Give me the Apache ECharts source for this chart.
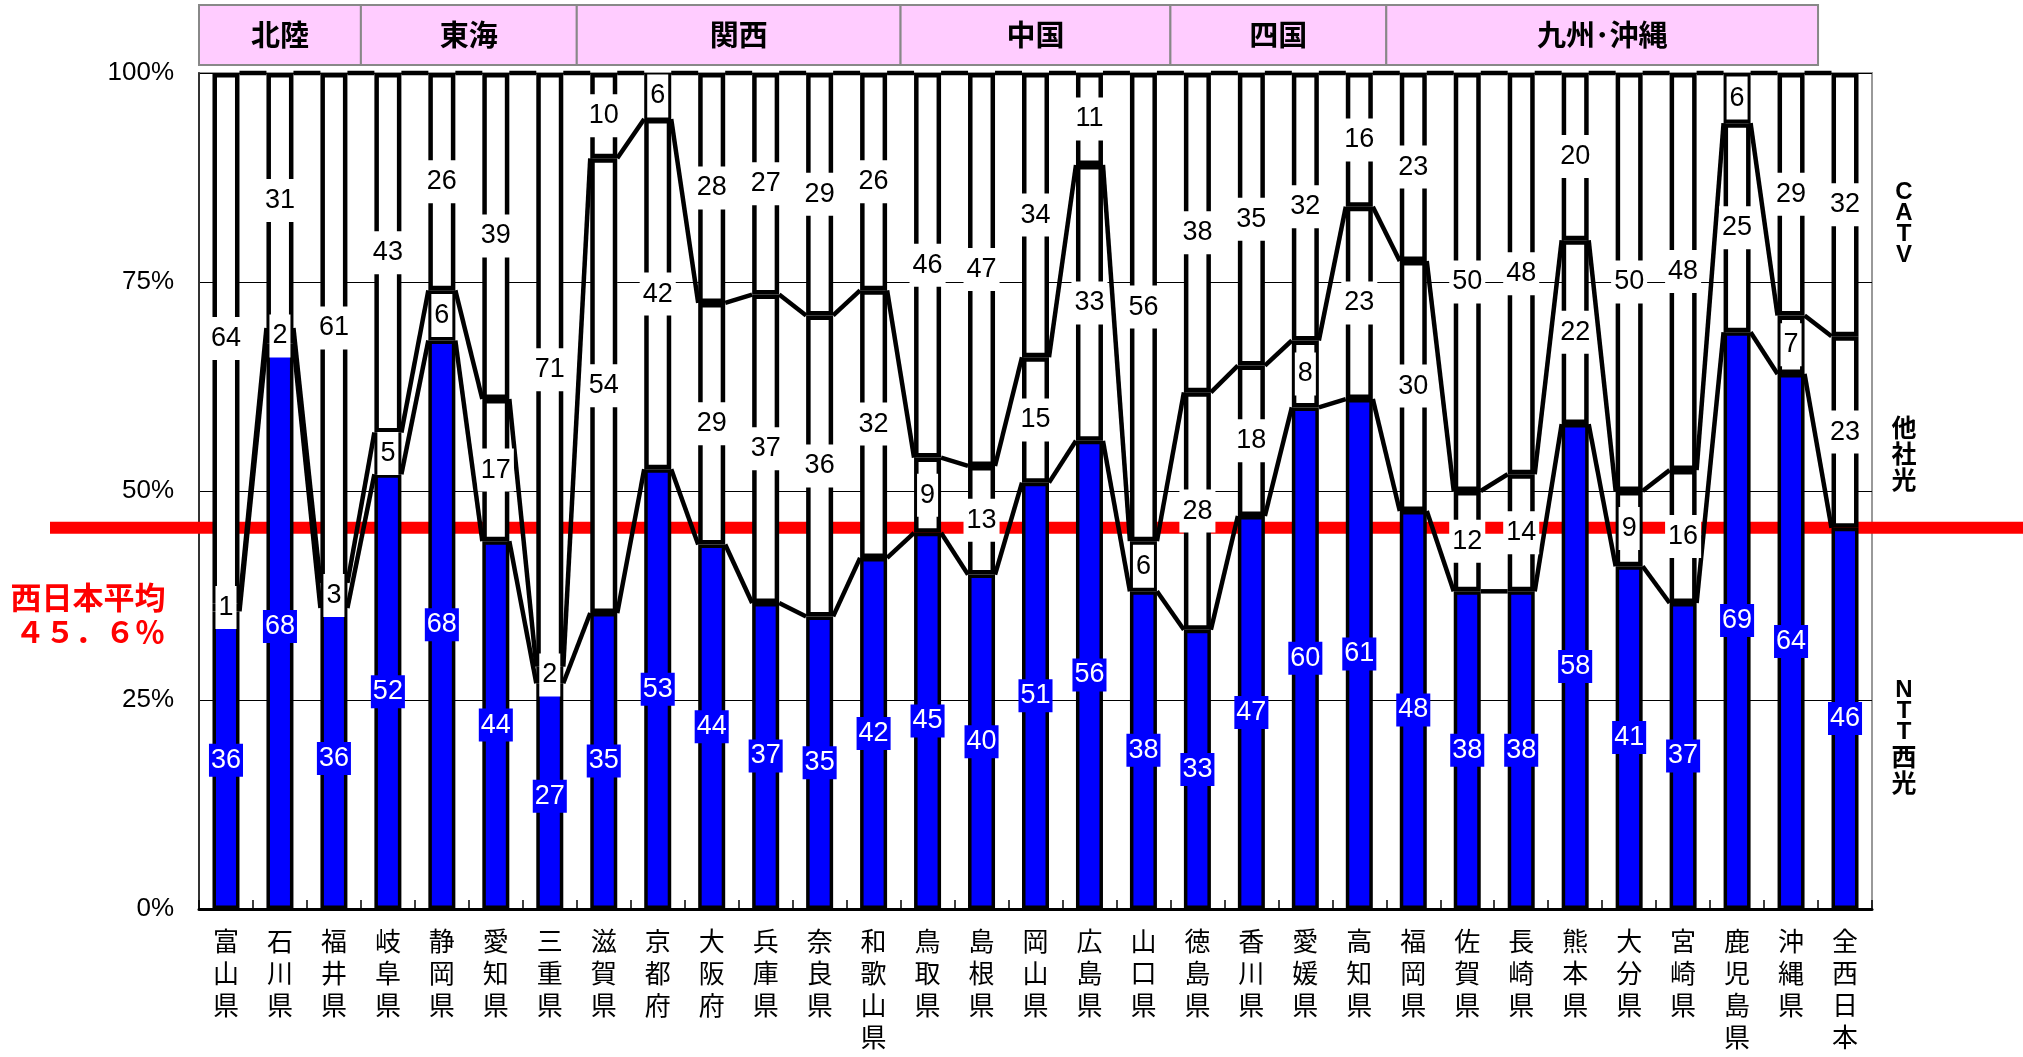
<!DOCTYPE html>
<html><head><meta charset="utf-8">
<script src="https://cdn.jsdelivr.net/npm/echarts@6/dist/echarts.min.js"></script>
<style>html,body{margin:0;padding:0;background:#fff}#c{width:2023px;height:1057px}</style>
</head><body><div id="c"></div>
<script>
// ---- data ----
const categories = ['富山県','石川県','福井県','岐阜県','静岡県','愛知県','三重県','滋賀県','京都府','大阪府','兵庫県','奈良県','和歌山県','鳥取県','島根県','岡山県','広島県','山口県','徳島県','香川県','愛媛県','高知県','福岡県','佐賀県','長崎県','熊本県','大分県','宮崎県','鹿児島県','沖縄県','全西日本'];
const nttWest    = [35.6, 67.6, 36, 52, 68, 44, 27, 35.4, 52.6, 43.6, 36.6, 35, 42, 45, 40, 51, 56, 38, 33.4, 47, 60, 61, 47.6, 38, 38, 58, 41, 36.6, 69, 64, 45.6];
const otherFiber = [0.9, 1.9, 3, 5, 6, 17, 2, 54.4, 41.9, 28.9, 36.9, 36, 32, 9, 13, 15, 33, 6, 28.4, 18, 8, 23, 29.9, 12, 14, 22, 9, 15.9, 25, 7, 22.9];
const catv       = [63.5, 30.5, 61, 43, 26, 39, 71, 10.2, 5.5, 27.5, 26.5, 29, 26, 46, 47, 34, 11, 56, 38.2, 35, 32, 16, 22.5, 50, 48, 20, 50, 47.5, 6, 29, 31.5];
const seriesNames = ['NTT西光', '他社光', 'CATV'];
const regionNames = ['北陸', '東海', '関西', '中国', '四国', '九州･沖縄'];
const regionSizes = [3, 4, 6, 5, 4, 8];
const yTicks = [0, 25, 50, 75, 100];
const westAvg = 45.6;
const avgLabelLines = ['西日本平均', '４５．６％'];

// ---- style ----
const BAR_W = 27;
const BLUE = '#0000FF';
const chart = echarts.init(document.getElementById('c'), null, {renderer: 'canvas'});

const labelBase = {show: true, position: 'inside', fontFamily: 'Liberation Sans', fontSize: 27, lineHeight: 27,
  formatter: p => String(Math.round(p.value))};

const option = {
  animation: false,
  backgroundColor: '#fff',
  grid: {left: 199, right: 151, top: 73, bottom: 148, containLabel: false, outerBoundsMode: 'none',
    show: true, borderColor: '#999', borderWidth: 2, backgroundColor: 'transparent'},
  xAxis: {
    type: 'category', data: categories,
    axisLine: {lineStyle: {color: '#000', width: 3}},
    axisTick: {show: true, inside: true, length: 9, lineStyle: {color: '#000', width: 1.5}},
    axisLabel: {interval: 0, margin: 16, color: '#000', fontSize: 26, lineHeight: 32,
      fontFamily: 'Noto Sans CJK JP', formatter: v => v.split('').join('\n')}
  },
  yAxis: {
    type: 'value', min: yTicks[0], max: yTicks[yTicks.length - 1], interval: 25,
    axisLine: {show: true, lineStyle: {color: '#333', width: 2}},
    axisTick: {show: false},
    splitLine: {show: true, lineStyle: {color: '#000', width: 1}},
    axisLabel: {margin: 25, color: '#000', fontSize: 26, fontFamily: 'Liberation Sans', formatter: '{value}%'}
  },
  series: [
    {
      type: 'custom', name: 'series-lines', z: 2, clip: false,
      data: categories.slice(0, -1).map((c, i) => [i, 0]),
      encode: {x: 0, y: 1},
      renderItem: function (params, api) {
        const i = api.value(0);
        const lv = k => [nttWest[k], nttWest[k] + otherFiber[k], nttWest[k] + otherFiber[k] + catv[k]];
        const a = lv(i), b = lv(i + 1);
        const half = BAR_W / 2;
        return {
          type: 'group',
          children: a.map((v, j) => {
            const p1 = api.coord([i, v]);
            const p2 = api.coord([i + 1, b[j]]);
            return {type: 'line', shape: {x1: p1[0] + half, y1: p1[1], x2: p2[0] - half, y2: p2[1]},
              style: {stroke: '#000', lineWidth: 4.5}};
          })
        };
      }
    },
    {
      type: 'bar', name: seriesNames[0], stack: 'total', z: 3, barWidth: BAR_W, data: nttWest,
      itemStyle: {color: BLUE, borderColor: '#000', borderWidth: 3.5},
      label: Object.assign({}, labelBase, {color: '#fff', backgroundColor: BLUE, padding: [3, 2, 3, 2]})
    },
    {
      type: 'bar', name: seriesNames[1], stack: 'total', z: 3, barWidth: BAR_W, data: otherFiber,
      itemStyle: {color: '#fff', borderColor: '#000', borderWidth: 4.5},
      label: Object.assign({}, labelBase, {color: '#000', backgroundColor: '#fff', padding: [8, 3, 8, 3]})
    },
    {
      type: 'bar', name: seriesNames[2], stack: 'total', z: 3, barWidth: BAR_W, data: catv,
      itemStyle: {color: '#fff', borderColor: '#000', borderWidth: 4.5},
      label: Object.assign({}, labelBase, {color: '#000', backgroundColor: '#fff', padding: [8, 3, 8, 3]})
    }
  ]
};
chart.setOption(option);

// ---- annotations positioned through the axes ----
const cx = k => chart.convertToPixel({xAxisIndex: 0}, categories[k]);
const catW = cx(1) - cx(0);
const graphics = [];
let start = 0;
regionNames.forEach((name, r) => {
  const end = start + regionSizes[r] - 1;
  const x1 = cx(start) - catW / 2, x2 = cx(end) + catW / 2;
  graphics.push({type: 'rect', z: 10, shape: {x: x1, y: 5, width: x2 - x1, height: 60},
    style: {fill: '#FFCCFF', stroke: '#888', lineWidth: 2}});
  graphics.push({type: 'text', z: 11, x: (x1 + x2) / 2, y: 35,
    style: {text: name, fill: '#000', font: 'bold 29px "Noto Sans CJK JP"', align: 'center', verticalAlign: 'middle'}});
  start = end + 1;
});
const yAvg = chart.convertToPixel({yAxisIndex: 0}, westAvg);
graphics.push({type: 'line', z: 1, shape: {x1: 50, y1: yAvg, x2: 2023, y2: yAvg},
  style: {stroke: '#FF0000', lineWidth: 12}});
graphics.push({type: 'text', z: 11, x: 88, y: yAvg + 69,
  style: {text: avgLabelLines[0], fill: '#FF0000', font: 'bold 31px "Noto Sans CJK JP"', align: 'center', verticalAlign: 'middle'}});
graphics.push({type: 'text', z: 11, x: 90, y: yAvg + 104,
  style: {text: avgLabelLines[1], fill: '#FF0000', font: 'bold 30px "Noto Sans CJK JP"', align: 'center', verticalAlign: 'middle'}});

const sideRich = {
  l: {fontFamily: 'Liberation Sans', fontWeight: 'bold', fontSize: 24, lineHeight: 21, fill: '#000', align: 'center'},
  c: {fontFamily: 'Noto Sans CJK JP', fontWeight: 'bold', fontSize: 25, lineHeight: 26, fill: '#000', align: 'center'}
};
const xSide = 1904;
const sideTexts = [
  {text: '{l|C}\n{l|A}\n{l|T}\n{l|V}', yVal: 82},
  {text: '{c|他}\n{c|社}\n{c|光}', yVal: 54.5},
  {text: '{l|N}\n{l|T}\n{l|T}\n{c|西}\n{c|光}', yVal: 20.5}
];
sideTexts.forEach(s => {
  graphics.push({type: 'text', z: 11, x: xSide, y: chart.convertToPixel({yAxisIndex: 0}, s.yVal),
    style: {text: s.text, rich: sideRich, align: 'center', verticalAlign: 'middle'}});
});
chart.setOption({graphic: graphics});
</script>
</body></html>
